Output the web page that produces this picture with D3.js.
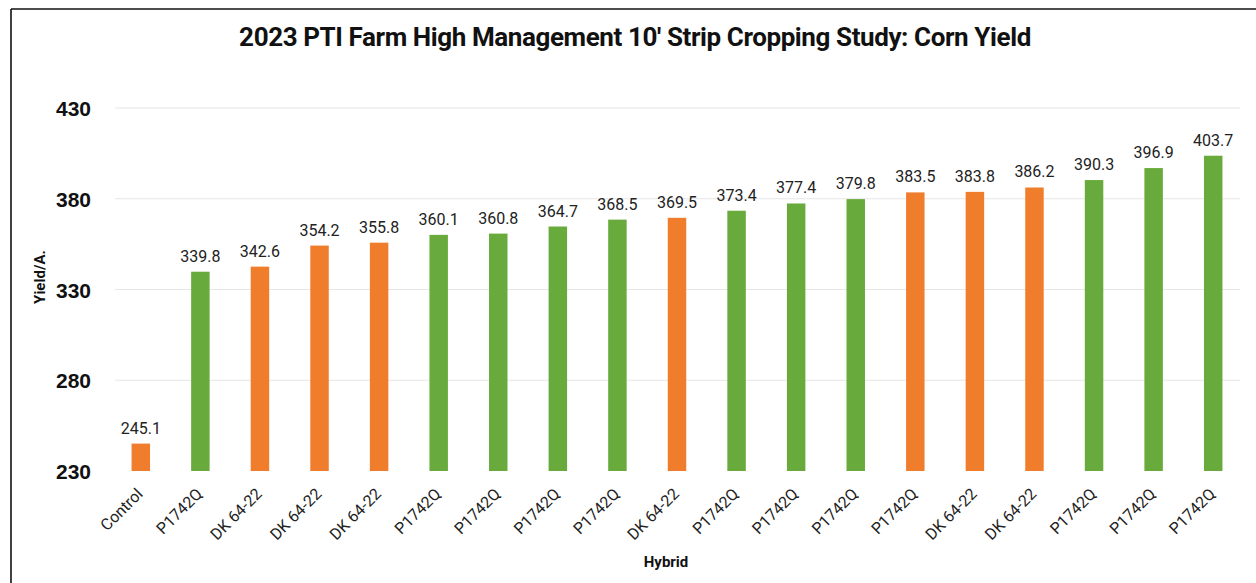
<!DOCTYPE html>
<html><head><meta charset="utf-8">
<script src="https://cdn.jsdelivr.net/npm/d3@7"></script>
<style>body{margin:0;background:#fff;}svg{display:block;}</style>
</head><body>
<svg id="c" width="1256" height="583"></svg>
<script>
const categories = ["Control","P1742Q","DK 64-22","DK 64-22","DK 64-22","P1742Q","P1742Q","P1742Q","P1742Q","DK 64-22","P1742Q","P1742Q","P1742Q","P1742Q","DK 64-22","DK 64-22","P1742Q","P1742Q","P1742Q"];
const yields = [245.1,339.8,342.6,354.2,355.8,360.1,360.8,364.7,368.5,369.5,373.4,377.4,379.8,383.5,383.8,386.2,390.3,396.9,403.7];
const groups = ["o","g","o","o","o","g","g","g","g","o","g","g","g","o","o","o","g","g","g"];
const yTicks = [230,280,330,380,430];
const title = "2023 PTI Farm High Management 10' Strip Cropping Study: Corn Yield";
const xTitle = "Hybrid";
const yTitle = "Yield/A.";

const colors = {o:"#f07d2c", g:"#68aa3b"};
const svg = d3.select("#c");
const W = 1256, H = 583;

// frame
svg.append("line").attr("x1",11).attr("x2",W).attr("y1",9).attr("y2",9).attr("stroke","#111").attr("stroke-width",1.6);
svg.append("line").attr("x1",11).attr("x2",11).attr("y1",9).attr("y2",H).attr("stroke","#111").attr("stroke-width",1.6);

const x = d3.scaleBand().domain(d3.range(categories.length)).range([111,1243]).paddingInner(0.69).paddingOuter(0.345);
const y = d3.scaleLinear().domain([230,430]).range([471,108]);

// gridlines
svg.append("g").selectAll("line").data(yTicks.filter(t=>t>230)).join("line")
  .attr("x1",115).attr("x2",1240).attr("y1",d=>y(d)).attr("y2",d=>y(d))
  .attr("stroke","#e6e6e6").attr("stroke-width",1.2);

// y axis
const ya = svg.append("g").attr("transform","translate(91,0)")
  .call(d3.axisLeft(y).tickValues(yTicks).tickSize(0).tickPadding(0));
ya.select(".domain").remove();
ya.selectAll("text").attr("font-family","Liberation Sans, Arial, sans-serif").attr("font-weight","bold")
  .attr("font-size",21).attr("fill","#111").attr("dy","0.36em");

// bars
svg.append("g").selectAll("rect").data(yields).join("rect")
  .attr("x",(d,i)=>x(i)).attr("width",x.bandwidth())
  .attr("y",d=>y(d)).attr("height",d=>y(230)-y(d))
  .attr("fill",(d,i)=>colors[groups[i]]);

// value labels
svg.append("g").selectAll("text").data(yields).join("text")
  .attr("x",(d,i)=>x(i)+x.bandwidth()/2).attr("y",d=>y(d)-10)
  .attr("text-anchor","middle").attr("font-family","Roboto, sans-serif").attr("font-size",16)
  .attr("fill","#222").text(d=>d.toFixed(1));

// x axis labels
const xa = svg.append("g").attr("transform","translate(0,478)")
  .call(d3.axisBottom(x).tickSize(0).tickFormat(i=>categories[i]));
xa.select(".domain").remove();
xa.selectAll("text").attr("font-family","Roboto, sans-serif").attr("font-size",16).attr("fill","#222")
  .attr("text-anchor","end").attr("x",0).attr("y",0).attr("dy",0)
  .attr("transform","translate(3,17) rotate(-45)");

// titles
svg.append("text").attr("x",635).attr("y",46).attr("text-anchor","middle")
  .attr("font-family","Roboto, sans-serif").attr("font-weight","bold").attr("font-size",26)
  .attr("letter-spacing",-0.4).attr("fill","#111").text(title);
svg.append("text").attr("x",666).attr("y",567).attr("text-anchor","middle")
  .attr("font-family","Roboto, sans-serif").attr("font-weight","bold").attr("font-size",15)
  .attr("fill","#111").text(xTitle);
svg.append("text").attr("transform","translate(45,277) rotate(-90)").attr("text-anchor","middle")
  .attr("font-family","Roboto, sans-serif").attr("font-weight","bold").attr("font-size",15)
  .attr("fill","#111").text(yTitle);
</script>
</body></html>
